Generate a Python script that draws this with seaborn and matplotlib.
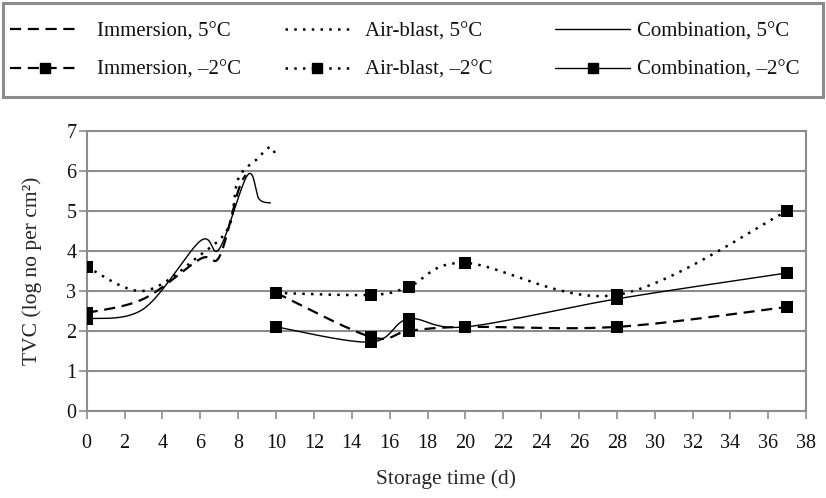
import numpy as np
import pandas as pd
import matplotlib.pyplot as plt
import seaborn as sns
from matplotlib.lines import Line2D
from matplotlib.patches import Rectangle

# 5 degC storage (no markers)
imm_5c_days = [0, 3, 6, 7, 8, 8.4]
imm_5c = [2.45, 2.8, 3.8, 3.85, 5.5, 5.9]
air_5c_days = [0, 3, 6, 7.5, 8, 9, 9.7, 10]
air_5c = [3.6, 3.0, 3.9, 4.6, 5.8, 6.3, 6.6, 6.35]
comb_5c_days = [0, 3, 6, 7, 8.5, 9.1, 9.7]
comb_5c = [2.3, 2.55, 4.25, 4.05, 5.9, 5.3, 5.2]

# -2 degC storage (square markers)
cold_days = [0, 10, 15, 17, 20, 28, 37]
imm_cold = [2.45, 2.95, 1.85, 2.0, 2.1, 2.1, 2.6]
air_cold = [3.6, 2.95, 2.9, 3.1, 3.7, 2.9, 5.0]
comb_cold = [2.3, 2.1, 1.72, 2.3, 2.1, 2.8, 3.45]

legend_labels = ["Immersion, 5°C", "Air-blast, 5°C", "Combination, 5°C",
                 "Immersion, –2°C", "Air-blast, –2°C", "Combination, –2°C"]


def smooth(x, y, n=40):
    # Excel-style smoothed line (bezier through the points)
    p = np.column_stack([x, y]).astype(float)
    p = np.vstack([p[0], p, p[-1]])
    t = np.linspace(0, 1, n)[:, None]
    out = []
    for i in range(1, len(p) - 2):
        p0, p1, p2, p3 = p[i - 1], p[i], p[i + 1], p[i + 2]
        b1 = p1 + (p2 - p0) / 6
        b2 = p2 - (p3 - p1) / 6
        seg = ((1 - t) ** 3) * p1 + 3 * ((1 - t) ** 2) * t * b1 + 3 * (1 - t) * t ** 2 * b2 + t ** 3 * p2
        out.append(seg)
    c = np.vstack(out)
    return pd.DataFrame({"x": c[:, 0], "y": c[:, 1]})


sns.set_theme(style="white")
plt.rcParams["font.family"] = ["Liberation Serif", "DejaVu Serif"]
plt.rcParams["text.color"] = "#111111"

fig = plt.figure(figsize=(8.26, 4.98), dpi=100)
ax = fig.add_axes([0.105, 0.175, 0.871, 0.562])

grey = "#8c8c8c"
dashed = (0, (5, 3))
dotted = (0, (1, 2.5))

styles = {
    "imm": dict(linestyle=dashed, linewidth=1.6),
    "air": dict(linestyle=dotted, linewidth=1.8),
    "comb": dict(linestyle="-", linewidth=1.0),
}

for key, d, v in [("imm", imm_5c_days, imm_5c), ("air", air_5c_days, air_5c),
                  ("comb", comb_5c_days, comb_5c)]:
    c = smooth(d, v)
    sns.lineplot(data=c, x="x", y="y", sort=False, estimator=None,
                 color="black", ax=ax, **styles[key])

for key, v in [("imm", imm_cold), ("air", air_cold), ("comb", comb_cold)]:
    c = smooth(cold_days[1:], v[1:])
    sns.lineplot(data=c, x="x", y="y", sort=False, estimator=None,
                 color="black", ax=ax, **styles[key])
    sns.scatterplot(x=cold_days, y=v, marker="s", s=85, color="black",
                    edgecolor="black", linewidth=0, ax=ax, zorder=5)

ax.set_xlim(0, 38)
ax.set_ylim(0, 7)
ax.set_xticks(range(0, 39, 2))
ax.set_yticks(range(0, 8))
ax.yaxis.grid(True, color=grey, linewidth=1.5)
ax.xaxis.grid(False)
for s in ax.spines.values():
    s.set_color(grey)
    s.set_linewidth(1.5)
ax.tick_params(axis="both", which="major", length=5.5, width=1.2, color=grey,
               labelsize=14.5, labelcolor="#111111", direction="out",
               bottom=True, left=True)
ax.tick_params(axis="x", pad=11)
ax.tick_params(axis="y", pad=2)
ax.set_xlabel("Storage time (d)", fontsize=15.5)
ax.set_ylabel("TVC (log no per cm²)", fontsize=15.5)
ax.xaxis.set_label_coords(0.5, -0.21)
ax.yaxis.set_label_coords(-0.062, 0.5)

# legend box across the top, three columns of two entries
fig.patches.append(Rectangle((0.004, 0.806), 0.992, 0.188, transform=fig.transFigure,
                             fill=False, edgecolor=grey, linewidth=2.2))
columns = [(0, 3, 0.012, 3.36, 0.82), (1, 4, 0.345, 3.1, 0.72), (2, 5, 0.672, 3.6, 0.35)]
for a, b, x0, hl, pad in columns:
    handles = [Line2D([], [], color="black", **styles[["imm", "air", "comb"][a]]),
               Line2D([], [], color="black", marker="s", markersize=7,
                      **styles[["imm", "air", "comb"][a]])]
    fig.legend(handles, [legend_labels[a], legend_labels[b]], loc="upper left",
               bbox_to_anchor=(x0, 0.956), frameon=False, fontsize=15,
               handlelength=hl, handletextpad=pad, labelspacing=0.9,
               borderpad=0, borderaxespad=0)

plt.savefig("out.png", dpi=100)
